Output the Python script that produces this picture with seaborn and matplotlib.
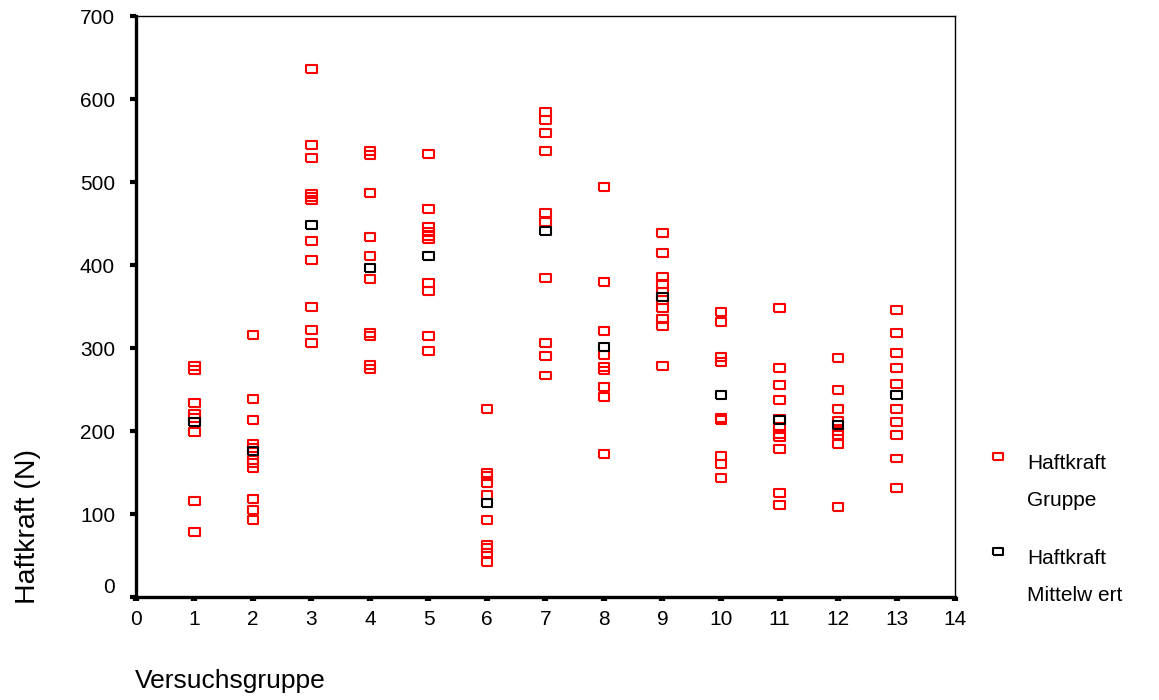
import pandas as pd
import numpy as np
import matplotlib.pyplot as plt
import seaborn as sns
from matplotlib.lines import Line2D
from matplotlib.markers import MarkerStyle
from matplotlib.transforms import Affine2D

g1 = [279, 274, 234, 221, 216, 199, 116, 79]
g2 = [316, 239, 213, 185, 180, 165, 161, 156, 118, 105, 93]
g3 = [636, 545, 529, 486, 482, 478, 429, 406, 350, 322, 306]
g4 = [538, 533, 487, 434, 411, 383, 318, 314, 280, 275]
g5 = [534, 468, 446, 440, 435, 431, 379, 369, 314, 297]
g6 = [227, 150, 146, 138, 123, 93, 63, 59, 53, 42]
g7 = [585, 575, 559, 537, 463, 452, 385, 306, 290, 267]
g8 = [494, 380, 321, 292, 277, 273, 253, 241, 172]
g9 = [439, 415, 386, 377, 368, 358, 348, 335, 327, 278]
g10 = [343, 332, 289, 283, 216, 213, 170, 160, 144]
g11 = [348, 276, 255, 237, 215, 205, 197, 193, 179, 126, 111]
g12 = [288, 250, 227, 212, 200, 195, 185, 109]
g13 = [346, 318, 294, 276, 257, 227, 211, 195, 167, 132]
groups = [g1, g2, g3, g4, g5, g6, g7, g8, g9, g10, g11, g12, g13]

# Mittelwert per Gruppe
group_ids = list(range(1, 14))
means = [211, 176, 448, 397, 411, 113, 441, 301, 362, 243, 213, 207, 243]

label_single = "Haftkraft\nGruppe"
label_mean = "Haftkraft\nMittelw ert"
colors = {label_single: "#ff0000", label_mean: "#000000"}

rows = []
for gid, vals in zip(group_ids, groups):
    for v in vals:
        rows.append({"Versuchsgruppe": gid, "Haftkraft": v, "Serie": label_single})
for gid, m in zip(group_ids, means):
    rows.append({"Versuchsgruppe": gid, "Haftkraft": m, "Serie": label_mean})
df = pd.DataFrame(rows)

sns.set_theme(style="white", rc={"text.color": "black", "xtick.color": "black",
                                 "ytick.color": "black", "axes.edgecolor": "black"})
plt.rcParams['font.family'] = ['Liberation Sans', 'DejaVu Sans']

fig = plt.figure(figsize=(11.59, 7.0), dpi=100)
ax = fig.add_axes([0.1173, 0.147, 0.7067, 0.83])

rect = [(-1.35, -1), (1.35, -1), (1.35, 1), (-1.35, 1), (-1.35, -1)]
sns.scatterplot(data=df, x="Versuchsgruppe", y="Haftkraft", hue="Serie",
                palette=colors, marker=rect, s=60, linewidth=1.5, ax=ax, legend=False)
# hollow markers: edge colour = hue colour
coll = ax.collections[0]
coll.set_edgecolors(coll.get_facecolors())
coll.set_facecolors("none")

ax.set_xlim(0, 14)
ax.set_ylim(0, 700)
ax.set_xticks(range(0, 15))
ax.set_yticks(range(0, 701, 100))
ax.tick_params(axis="x", labelsize=15, length=3, width=4.5, direction="out", pad=6)
ax.tick_params(axis="y", labelsize=15, length=4, width=3, direction="out", pad=11)
ax.xaxis.set_ticks_position("bottom")
ax.yaxis.set_ticks_position("left")
ax.yaxis.get_major_ticks()[0].label1.set_va("bottom")
for side in ["left", "bottom"]:
    ax.spines[side].set_linewidth(2.4)
for side in ["top", "right"]:
    ax.spines[side].set_linewidth(1.0)
ax.set_xlabel("")
ax.set_ylabel("")

fig.text(0.1165, 1 - 688 / 700, "Versuchsgruppe", fontsize=19, ha="left", va="baseline")
fig.text(0.024, 1 - 527 / 700, "Haftkraft (N)", fontsize=20.5, rotation=90,
         ha="center", va="center")

# legend: marker sits next to the first line of each two-line label
leg_marker = MarkerStyle(rect, transform=Affine2D().translate(0, 2.6))
handles = [Line2D([], [], ls="none", marker=leg_marker, markersize=7,
                  markerfacecolor="none", markeredgecolor=colors[k], markeredgewidth=1.5)
           for k in [label_single, label_mean]]
leg = ax.legend(handles, [label_single, label_mean], loc="upper left",
                bbox_to_anchor=(0.852, 1 - 454 / 700), bbox_transform=fig.transFigure,
                frameon=False, fontsize=15, borderpad=0, borderaxespad=0,
                handletextpad=0.9, labelspacing=1.85, handlelength=1.0)
for t in leg.get_texts():
    t.set_linespacing(2.2)

fig.savefig("out.png", dpi=100)
